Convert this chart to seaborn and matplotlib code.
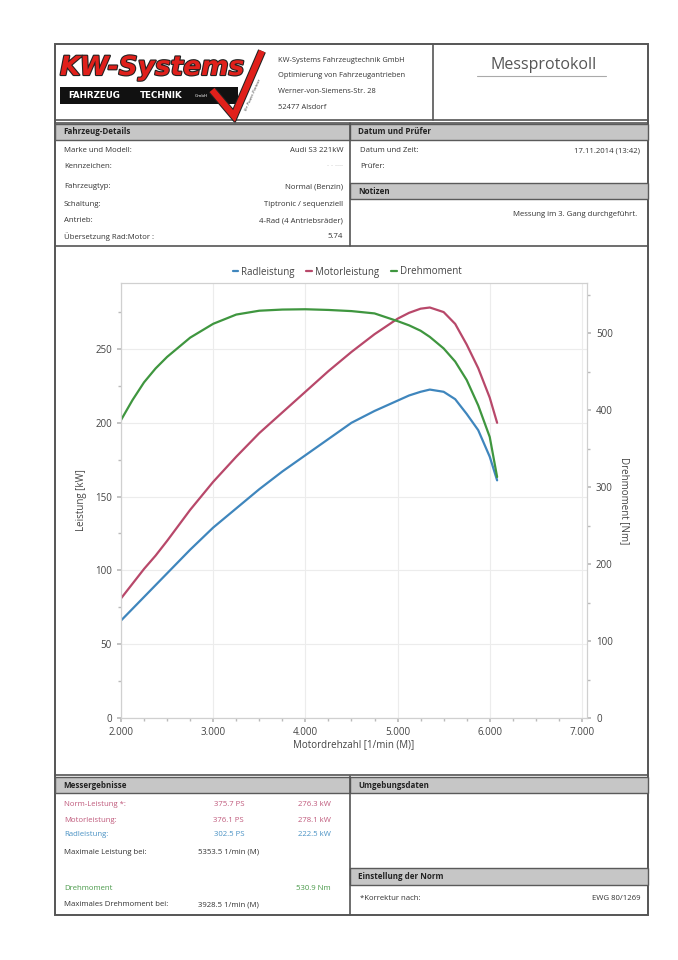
import matplotlib
matplotlib.use('Agg')
import seaborn as sns
import matplotlib.pyplot as plt
import matplotlib.patheffects as pe
from matplotlib.patches import Rectangle
from matplotlib.lines import Line2D
from matplotlib.ticker import FuncFormatter, MultipleLocator, AutoMinorLocator

# curve data read from the protocol (rpm, kW, Nm)
rpm = [2000, 2125, 2250, 2375, 2500, 2750, 3000, 3250, 3500, 3750, 4000, 4250,
       4500, 4750, 5000, 5125, 5250, 5350, 5500, 5625, 5750, 5875, 6000, 6080]
rad_kw = [66, 74, 82, 90, 98, 114, 129, 142, 155, 167, 178, 189,
          200, 208, 215, 218.5, 221, 222.5, 221, 216, 206, 195, 177, 161]
motor_kw = [81, 91, 101, 110, 120, 141, 160, 177, 193, 207, 221, 235,
            248, 260, 270.5, 274.5, 277.3, 278.1, 275, 267, 253, 237, 217, 200]
torque_nm = [387, 413, 436, 454, 469, 494, 512, 524, 529, 530.5, 530.9, 530,
             528.5, 525.5, 515.5, 510, 503, 495, 480, 463, 439, 406, 365, 313]

series_names = ['Radleistung', 'Motorleistung', 'Drehmoment']
series_colors = ['#3f86bd', '#b8486a', '#3f963f']

details_left = ['Marke und Modell:', 'Kennzeichen:', 'Fahrzeugtyp:', 'Schaltung:',
                'Antrieb:', 'Übersetzung Rad:Motor :']
details_right = ['Audi S3 221kW', '· · ····', 'Normal (Benzin)', 'Tiptronic / sequenziell',
                 '4-Rad (4 Antriebsräder)', '5.74']
company_lines = ['KW-Systems Fahrzeugtechnik GmbH', 'Optimierung von Fahrzeugantrieben',
                 'Werner-von-Siemens-Str. 28', '52477 Alsdorf']
result_labels = ['Norm-Leistung *:', 'Motorleistung:', 'Radleistung:', 'Maximale Leistung bei:']
result_ps = ['375.7 PS', '376.1 PS', '302.5 PS']
result_kw = ['276.3 kW', '278.1 kW', '222.5 kW']
result_colors = ['#c05a7c', '#c05a7c', '#4a92c4', '#333333']

sns.set_theme(style='white')
plt.rcParams['font.family'] = ['Open Sans', 'DejaVu Sans']

W, H = 678, 960
fig = plt.figure(figsize=(6.78, 9.6), dpi=100)
fig.patch.set_facecolor('white')


def fx(x):
    return x / W


def fy(y):
    return 1 - y / H


def hline(x0, x1, y, lw=1.2, c='#555555'):
    fig.add_artist(Line2D([fx(x0), fx(x1)], [fy(y), fy(y)], color=c, lw=lw,
                          transform=fig.transFigure))


def vline(x, y0, y1, lw=1.2, c='#555555'):
    fig.add_artist(Line2D([fx(x), fx(x)], [fy(y0), fy(y1)], color=c, lw=lw,
                          transform=fig.transFigure))


def bar(x0, x1, y0, y1, label):
    fig.add_artist(Rectangle((fx(x0), fy(y1)), fx(x1) - fx(x0), fy(y0) - fy(y1),
                             facecolor='#c6c6c6', edgecolor='#5a5a5a', lw=1.0,
                             transform=fig.transFigure))
    fig.text(fx(x0 + 8), fy((y0 + y1) / 2), label, fontsize=5.8, weight='bold',
             color='#222222', va='center', ha='left')


def txt(x, y, s, ha='left', color='#333333', size=5.6, **kw):
    fig.text(fx(x), fy(y), s, ha=ha, va='center', color=color, fontsize=size, **kw)


# page frame
fig.add_artist(Rectangle((fx(55), fy(915)), fx(648) - fx(55), fy(44) - fy(915),
                         facecolor='none', edgecolor='#555555', lw=1.4,
                         transform=fig.transFigure))
hline(55, 648, 120)
vline(433, 44, 120)
hline(55, 648, 246)
hline(55, 648, 775)

# logo
kw = fig.text(fx(60), fy(68), 'KW-Systems', fontsize=19, weight='heavy', style='italic',
              family='DejaVu Sans', color='#e0201b', va='center', ha='left')
kw.set_path_effects([pe.withStroke(linewidth=1.6, foreground='#222222')])
fig.add_artist(Rectangle((fx(60), fy(104)), fx(238) - fx(60), fy(87) - fy(104),
                         facecolor='#111111', edgecolor='none', transform=fig.transFigure))
txt(68, 95.5, 'FAHRZEUG', color='white', size=6.3, weight='bold', family='DejaVu Sans')
txt(140, 95.5, 'TECHNIK', color='white', size=6.3, weight='bold', family='DejaVu Sans')
txt(195, 96, 'GmbH', color='white', size=3, family='DejaVu Sans')
check = Line2D([fx(212), fx(234), fx(262)], [fy(90), fy(116), fy(51)], color='#e0201b',
               lw=4.5, solid_capstyle='butt', solid_joinstyle='miter', transform=fig.transFigure)
check.set_path_effects([pe.Stroke(linewidth=6, foreground='#222222'), pe.Normal()])
fig.add_artist(check)
fig.text(fx(253), fy(95), 'Ihr Power-Partner', rotation=66, fontsize=3.2, style='italic',
         color='#333333', ha='center', va='center')

for i, line in enumerate(company_lines):
    txt(278, 60 + i * 15.7, line, size=5.4)

txt(544, 65, 'Messprotokoll', ha='center', size=11.5, color='#555555')
hline(477, 606, 76, lw=0.8, c='#aaaaaa')

# vehicle details
hline(55, 648, 123)
bar(55, 350, 124, 140, 'Fahrzeug-Details')
bar(350, 648, 124, 140, 'Datum und Prüfer')
bar(350, 648, 183, 199, 'Notizen')
vline(350, 123, 246)
rows_y = [151, 166, 187, 204, 221, 237]
for y, left, right in zip(rows_y, details_left, details_right):
    txt(64, y, left)
    txt(343, y, right, ha='right', color='#bbbbbb' if right.startswith('·') else '#333333')
txt(360, 151, 'Datum und Zeit:')
txt(640, 151, '17.11.2014 (13:42)', ha='right')
txt(360, 166, 'Prüfer:')
txt(637, 214, 'Messung im 3. Gang durchgeführt.', ha='right')

# results
bar(55, 350, 777, 793, 'Messergebnisse')
bar(350, 648, 777, 793, 'Umgebungsdaten')
bar(350, 648, 868, 885, 'Einstellung der Norm')
vline(350, 776, 915)
res_y = [805, 820, 835, 852]
for i, (y, lab) in enumerate(zip(res_y, result_labels)):
    txt(64, y, lab, color=result_colors[i])
    if i < 3:
        txt(244, y, result_ps[i], ha='right', color=result_colors[i])
        txt(331, y, result_kw[i], ha='right', color=result_colors[i])
txt(198, 852, '5353.5 1/min (M)')
txt(64, 888, 'Drehmoment', color='#4a9a4a')
txt(331, 888, '530.9 Nm', ha='right', color='#4a9a4a')
txt(64, 905, 'Maximales Drehmoment bei:')
txt(198, 905, '3928.5 1/min (M)')
txt(360, 898, '*Korrektur nach:')
txt(640, 898, 'EWG 80/1269', ha='right')

# chart
ax = fig.add_axes([fx(121), fy(718), fx(587) - fx(121), fy(283) - fy(718)])
ax2 = ax.twinx()
sns.lineplot(x=rpm, y=rad_kw, ax=ax, color=series_colors[0], lw=1.6, label=series_names[0])
sns.lineplot(x=rpm, y=motor_kw, ax=ax, color=series_colors[1], lw=1.6, label=series_names[1])
sns.lineplot(x=rpm, y=torque_nm, ax=ax2, color=series_colors[2], lw=1.6, label=series_names[2])

ax.set_xlim(2000, 7055)
ax.set_ylim(0, 294.7)
ax2.set_ylim(0, 565)
ax.xaxis.set_major_locator(MultipleLocator(1000))
ax.xaxis.set_minor_locator(AutoMinorLocator(4))
ax.yaxis.set_major_locator(MultipleLocator(50))
ax.yaxis.set_minor_locator(AutoMinorLocator(2))
ax2.yaxis.set_major_locator(MultipleLocator(100))
ax2.yaxis.set_minor_locator(AutoMinorLocator(2))
ax.xaxis.set_major_formatter(FuncFormatter(lambda v, p: f'{v:,.0f}'.replace(',', '.')))
ax.grid(True, color='#ececec', lw=0.8)
ax.set_axisbelow(True)

for a in (ax, ax2):
    for s in a.spines.values():
        s.set_color('#d0d0d0')
        s.set_linewidth(0.8)
    a.tick_params(which='both', colors='#bbbbbb', labelcolor='#444444', labelsize=7,
                  direction='out')
    a.tick_params(which='major', length=3)
    a.tick_params(which='minor', length=2)
ax.tick_params(axis='y', which='both', left=True)
ax.tick_params(axis='x', which='both', bottom=True)
ax2.tick_params(axis='y', which='both', right=True)

ax.set_xlabel('Motordrehzahl [1/min (M)]', fontsize=7, color='#444444', labelpad=1)
ax.set_ylabel('Leistung [kW]', fontsize=7, color='#444444', labelpad=6)
ax2.set_ylabel('Drehmoment [Nm]', fontsize=7, color='#444444', rotation=270, labelpad=12)

h1, l1 = ax.get_legend_handles_labels()
h2, l2 = ax2.get_legend_handles_labels()
ax.get_legend().remove()
ax2.get_legend().remove()
fig.legend(h1 + h2, l1 + l2, loc='center', bbox_to_anchor=(fx(347), fy(272)), ncol=3,
           frameon=False, fontsize=7, handlelength=0.6, handletextpad=0.3, columnspacing=1.2,
           labelcolor='#444444')

fig.savefig('out.png', dpi=100, facecolor='white')
